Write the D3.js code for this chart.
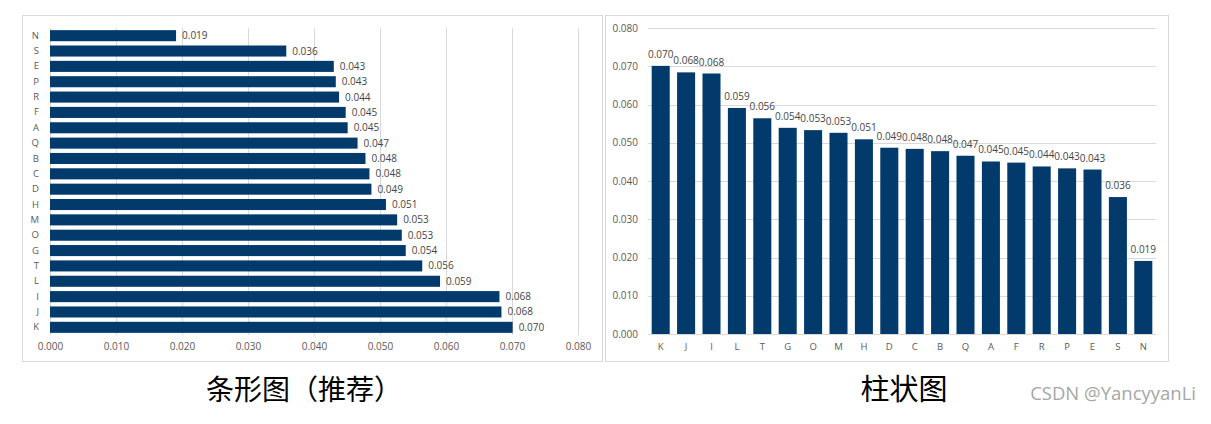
<!DOCTYPE html>
<html><head><meta charset="utf-8">
<script src="https://cdn.jsdelivr.net/npm/d3@7"></script>
<style>
html,body{margin:0;padding:0;background:#fff;}
svg{display:block;}
</style></head>
<body>
<svg id="chart" width="1211" height="424"></svg>
<script>
// Data (sorted descending)
const categories = ["K","J","I","L","T","G","O","M","H","D","C","B","Q","A","F","R","P","E","S","N"];
const values = [0.0701,0.0684,0.0681,0.0591,0.0564,0.0539,0.0533,0.0526,0.0509,0.0487,0.0484,0.0478,0.0466,0.0451,0.0448,0.0438,0.0433,0.0430,0.0358,0.0191];
const tickValues = [0,0.01,0.02,0.03,0.04,0.05,0.06,0.07,0.08];
const titles = ["条形图（推荐）","柱状图"];
const watermark = "CSDN @YancyyanLi";

const data = categories.map((c,i)=>({cat:c, v:values[i]}));
const fmt = d3.format(".3f");
const barColor = "#023a6c";
const gridColor = "#d9d9d9";
const tickColor = "#595959";
const labelColor = "#454545";
const font = "'Open Sans', sans-serif";
const fs = 10;

const svg = d3.select("#chart");

// Panel borders
svg.append("rect").attr("x",22.5).attr("y",15.5).attr("width",580).attr("height",346)
  .attr("fill","none").attr("stroke",gridColor);
svg.append("rect").attr("x",605.5).attr("y",15.5).attr("width",563).attr("height",346)
  .attr("fill","none").attr("stroke",gridColor);

// ---------- Left: horizontal bar chart ----------
{
  const x = d3.scaleLinear().domain([0,0.08]).range([50,578]);
  const y = d3.scaleBand().domain(categories.slice().reverse()).range([28,335]).paddingInner(0.28).paddingOuter(0.14);
  const g = svg.append("g");
  g.selectAll("line.grid").data(tickValues).join("line")
    .attr("x1",d=>Math.round(x(d))+0.5).attr("x2",d=>Math.round(x(d))+0.5)
    .attr("y1",28).attr("y2",335).attr("stroke",gridColor).attr("stroke-width",1);
  const xa = g.append("g").attr("transform","translate(0,335)")
    .call(d3.axisBottom(x).tickValues(tickValues).tickFormat(fmt).tickSize(0).tickPadding(8));
  xa.select(".domain").remove();
  xa.selectAll("text").attr("fill",tickColor).attr("font-family",font).attr("font-size",fs);
  const ya = g.append("g").attr("transform","translate(50,0)")
    .call(d3.axisLeft(y).tickSize(0).tickPadding(11));
  ya.select(".domain").remove();
  ya.selectAll("text").attr("fill",tickColor).attr("font-family",font).attr("font-size",fs-0.5);
  g.selectAll("rect.bar").data(data).join("rect")
    .attr("x",x(0)).attr("y",d=>y(d.cat)).attr("width",d=>x(d.v)-x(0)).attr("height",y.bandwidth())
    .attr("fill",barColor);
  g.selectAll("text.lbl").data(data).join("text")
    .attr("x",d=>x(d.v)+6).attr("y",d=>y(d.cat)+y.bandwidth()/2).attr("dy","0.35em")
    .attr("fill",labelColor).attr("font-family",font).attr("font-size",fs)
    .text(d=>fmt(d.v));
}

// ---------- Right: vertical bar chart ----------
{
  const x = d3.scaleBand().domain(categories).range([648,1156]).paddingInner(0.29).paddingOuter(0.145);
  const y = d3.scaleLinear().domain([0,0.08]).range([334,28]);
  const g = svg.append("g");
  g.selectAll("line.grid").data(tickValues).join("line")
    .attr("x1",648).attr("x2",1156)
    .attr("y1",d=>Math.round(y(d))+0.5).attr("y2",d=>Math.round(y(d))+0.5)
    .attr("stroke",gridColor).attr("stroke-width",1);
  const ya = g.append("g").attr("transform","translate(648,0)")
    .call(d3.axisLeft(y).tickValues(tickValues).tickFormat(fmt).tickSize(0).tickPadding(10));
  ya.select(".domain").remove();
  ya.selectAll("text").attr("fill",tickColor).attr("font-family",font).attr("font-size",fs);
  const xa = g.append("g").attr("transform","translate(0,334)")
    .call(d3.axisBottom(x).tickSize(0).tickPadding(9));
  xa.select(".domain").remove();
  xa.selectAll("text").attr("fill",tickColor).attr("font-family",font).attr("font-size",fs-0.5);
  g.selectAll("rect.bar").data(data).join("rect")
    .attr("x",d=>x(d.cat)).attr("y",d=>y(d.v)).attr("width",x.bandwidth()).attr("height",d=>y(0)-y(d.v))
    .attr("fill",barColor);
  g.selectAll("text.lbl").data(data).join("text")
    .attr("x",d=>x(d.cat)+x.bandwidth()/2).attr("y",d=>y(d.v)-8)
    .attr("text-anchor","middle")
    .attr("fill",labelColor).attr("font-family",font).attr("font-size",fs)
    .text(d=>fmt(d.v));
}

// Titles
const cjk = "'Noto Sans CJK SC', sans-serif";
svg.append("text").attr("x",304).attr("y",400).attr("text-anchor","middle")
  .attr("font-family",cjk).attr("font-size",28).attr("fill","#000").text(titles[0]);
svg.append("text").attr("x",904).attr("y",400).attr("text-anchor","middle")
  .attr("font-family",cjk).attr("font-size",29).attr("fill","#000").text(titles[1]);
svg.append("text").attr("x",1196).attr("y",400).attr("text-anchor","end")
  .attr("font-family","'Open Sans', sans-serif").attr("font-size",18.5).attr("fill","#a6a6a6").text(watermark);
</script>
</body></html>
